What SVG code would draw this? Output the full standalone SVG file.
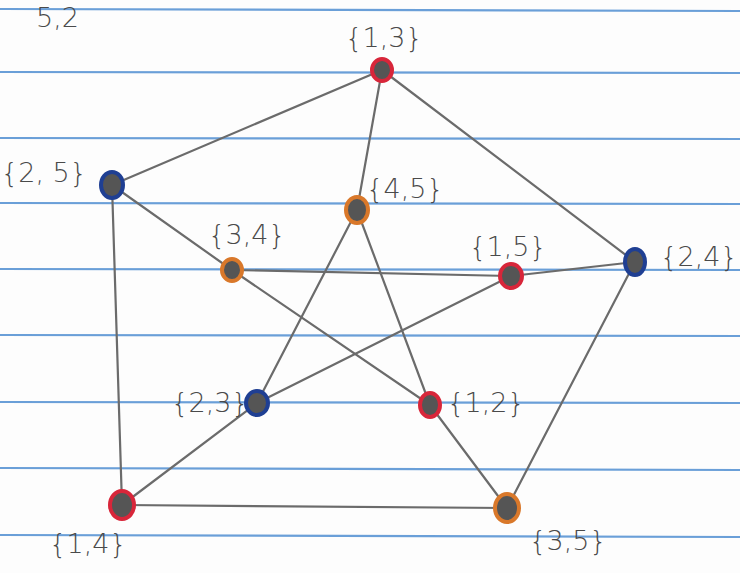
<svg xmlns="http://www.w3.org/2000/svg" width="740" height="573" viewBox="0 0 740 573">
<style>
.rule{stroke:#6a9fd8;stroke-width:2.2}
.e{stroke:#6b6b6b;stroke-width:2.2;fill:none;stroke-linecap:round}
.n{fill:#555;stroke-width:4}
.red{stroke:#d8263a}
.blue{stroke:#1f3f93}
.org{stroke:#d9782a}
.t{font-family:"DejaVu Sans",sans-serif;font-size:27px;font-weight:300;fill:#4a4a4a}
</style>
<rect width="740" height="573" fill="#fdfdfd"/>
<g id="rules">
<line class="rule" x1="0" y1="9" x2="740" y2="11"/>
<line class="rule" x1="0" y1="72" x2="740" y2="73"/>
<line class="rule" x1="0" y1="138" x2="740" y2="139"/>
<line class="rule" x1="0" y1="203" x2="740" y2="204"/>
<line class="rule" x1="0" y1="269" x2="740" y2="270"/>
<line class="rule" x1="0" y1="335" x2="740" y2="336"/>
<line class="rule" x1="0" y1="402" x2="740" y2="403"/>
<line class="rule" x1="0" y1="468" x2="740" y2="470"/>
<line class="rule" x1="0" y1="535" x2="740" y2="537"/>
</g>
<g id="header">
<text class="t" x="36" y="27">5,2</text>
</g>
<g id="edges">
<line class="e" x1="382" y1="70" x2="112" y2="185"/>
<line class="e" x1="382" y1="70" x2="635" y2="262"/>
<line class="e" x1="112" y1="185" x2="122" y2="505"/>
<line class="e" x1="635" y1="262" x2="507" y2="508"/>
<line class="e" x1="122" y1="505" x2="507" y2="508"/>
<line class="e" x1="382" y1="70" x2="357" y2="210"/>
<line class="e" x1="112" y1="185" x2="232" y2="270"/>
<line class="e" x1="635" y1="262" x2="511" y2="276"/>
<line class="e" x1="122" y1="505" x2="257" y2="403"/>
<line class="e" x1="507" y1="508" x2="430" y2="405"/>
<line class="e" x1="357" y1="210" x2="257" y2="403"/>
<line class="e" x1="357" y1="210" x2="430" y2="405"/>
<line class="e" x1="232" y1="270" x2="511" y2="276"/>
<line class="e" x1="232" y1="270" x2="430" y2="405"/>
<line class="e" x1="511" y1="276" x2="257" y2="403"/>
</g>
<g id="n13"><ellipse class="n red" cx="382" cy="70" rx="10" ry="11"/><text class="t" x="384" y="47" text-anchor="middle">{1,3}</text></g>
<g id="n25"><ellipse class="n blue" cx="112" cy="185" rx="11" ry="13"/><text class="t" x="44" y="182" text-anchor="middle">{2, 5}</text></g>
<g id="n45"><ellipse class="n org" cx="357" cy="210" rx="11" ry="13"/><text class="t" x="405" y="198" text-anchor="middle">{4,5}</text></g>
<g id="n34"><ellipse class="n org" cx="232" cy="270" rx="10" ry="11"/><text class="t" x="247" y="244" text-anchor="middle">{3,4}</text></g>
<g id="n15"><ellipse class="n red" cx="511" cy="276" rx="11" ry="12"/><text class="t" x="508" y="256" text-anchor="middle">{1,5}</text></g>
<g id="n24"><ellipse class="n blue" cx="635" cy="262" rx="10" ry="13"/><text class="t" x="699" y="266" text-anchor="middle">{2,4}</text></g>
<g id="n23"><ellipse class="n blue" cx="257" cy="403" rx="11" ry="12"/><text class="t" x="210" y="412" text-anchor="middle">{2,3}</text></g>
<g id="n12"><ellipse class="n red" cx="430" cy="405" rx="10" ry="12"/><text class="t" x="486" y="412" text-anchor="middle">{1,2}</text></g>
<g id="n14"><ellipse class="n red" cx="122" cy="505" rx="12" ry="14"/><text class="t" x="88" y="553" text-anchor="middle">{1,4}</text></g>
<g id="n35"><ellipse class="n org" cx="507" cy="508" rx="12" ry="14"/><text class="t" x="568" y="550" text-anchor="middle">{3,5}</text></g>
</svg>
